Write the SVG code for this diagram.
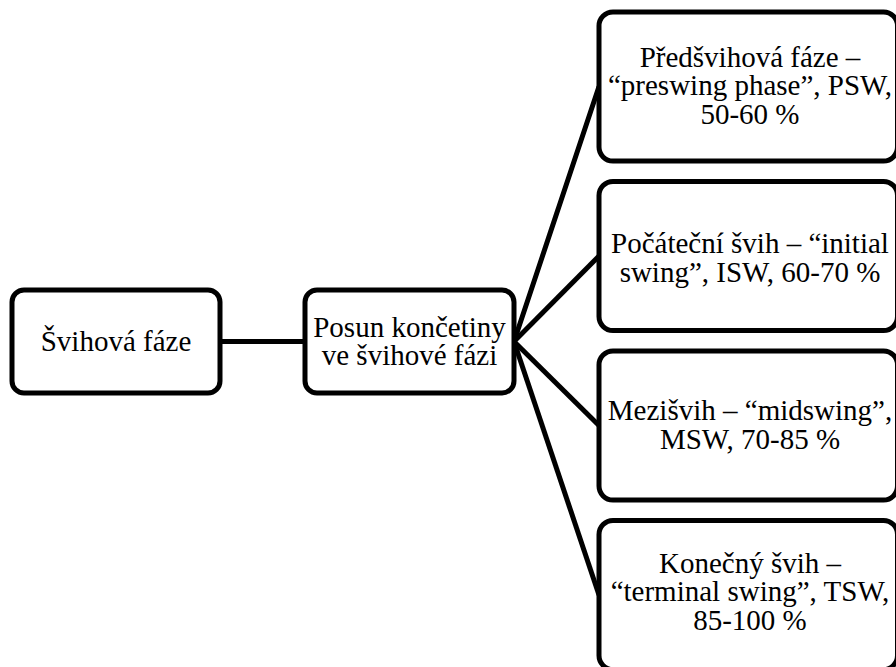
<svg xmlns="http://www.w3.org/2000/svg" width="896" height="667" viewBox="0 0 896 667">
<style>
.box{fill:#fff;stroke:#000;stroke-width:5}
.lbl{font-family:"Liberation Serif","Times New Roman",serif;font-size:29px;fill:#000;text-anchor:middle}
.con{stroke:#000;stroke-width:5;fill:none}
</style>
<rect width="896" height="667" fill="#fff"/>
<g id="connectors">
<line class="con" x1="220" y1="341.5" x2="305" y2="341.5"/>
<line class="con" x1="514" y1="341.5" x2="599" y2="86.5"/>
<line class="con" x1="514" y1="341.5" x2="599" y2="256"/>
<line class="con" x1="514" y1="341.5" x2="599" y2="425.5"/>
<line class="con" x1="514" y1="341.5" x2="599" y2="595"/>
</g>
<g id="n1">
<rect class="box" x="12" y="290" width="208" height="103" rx="12"/>
<text class="lbl" x="116" y="350.5">Švihová fáze</text>
</g>
<g id="n2">
<rect class="box" x="305" y="290" width="209" height="103" rx="12"/>
<text class="lbl" x="409.5" y="337">Posun končetiny</text>
<text class="lbl" x="409.5" y="365">ve švihové fázi</text>
</g>
<g id="n3">
<rect class="box" x="599" y="12" width="298.5" height="149" rx="14"/>
<text class="lbl" x="750" y="66.7">Předšvihová fáze –</text>
<text class="lbl" x="750" y="95.3">“preswing phase”, PSW,</text>
<text class="lbl" x="750" y="124">50-60 %</text>
</g>
<g id="n4">
<rect class="box" x="599" y="181.5" width="298.5" height="149" rx="14"/>
<text class="lbl" x="750" y="253">Počáteční švih – “initial</text>
<text class="lbl" x="750" y="281.5">swing”, ISW, 60-70 %</text>
</g>
<g id="n5">
<rect class="box" x="599" y="351" width="298.5" height="149" rx="14"/>
<text class="lbl" x="750" y="420">Mezišvih – “midswing”,</text>
<text class="lbl" x="750" y="448.5">MSW, 70-85 %</text>
</g>
<g id="n6">
<rect class="box" x="599" y="520.5" width="298.5" height="149" rx="14"/>
<text class="lbl" x="750" y="572.5">Konečný švih –</text>
<text class="lbl" x="750" y="601.2">“terminal swing”, TSW,</text>
<text class="lbl" x="750" y="630">85-100 %</text>
</g>
</svg>
